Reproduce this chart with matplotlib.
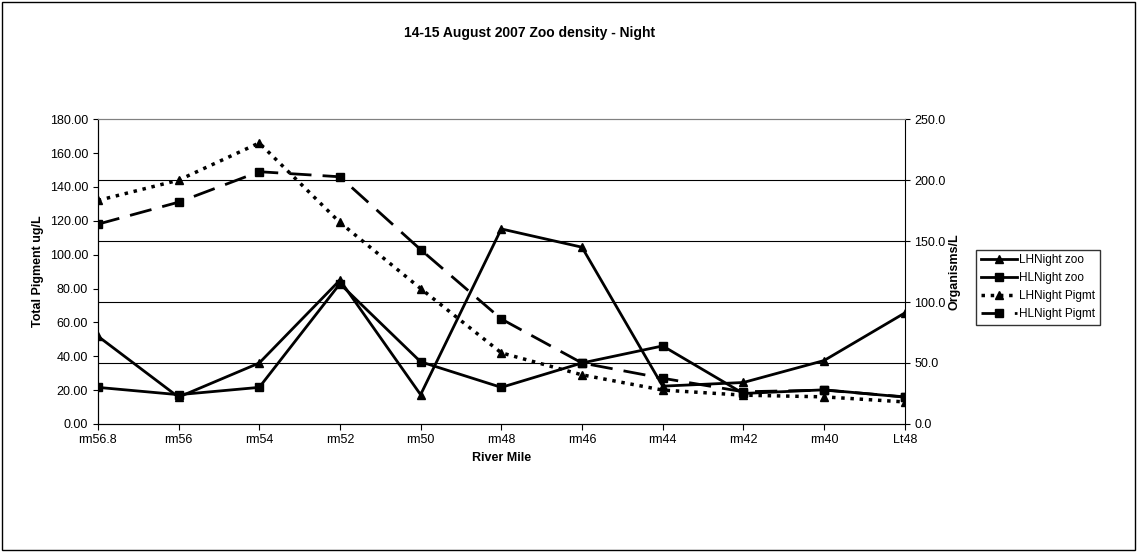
import matplotlib
matplotlib.use("Agg")
import matplotlib.pyplot as plt
from matplotlib.patches import Rectangle

miles = ["rm56.8","rm56","rm54","rm52","rm50","rm48","rm46","rm44","rm42","rm40","Lt48"]
lh_zoo = [72,22,50,118,24,160,145,31,34,52,91]
hl_zoo = [30,24,30,115,51,30,50,64,25,28,22]
lh_pig = [132,144,166,119,80,42,29,20,17,16,13]
hl_pig = [118,131,149,146,103,62,36,27,19,20,16]

plt.rcParams['font.family'] = ['Liberation Sans', 'DejaVu Sans']
fig = plt.figure(figsize=(11.38,5.52), dpi=100)
fig.patches.append(Rectangle((0.002,0.004),0.995,0.992, transform=fig.transFigure, fill=False, ec='black', lw=1))
ax = fig.add_axes([0.086,0.232,0.709,0.552])
ax2 = ax.twinx()
x = list(range(len(miles)))
ax.set_ylim(0,180); ax2.set_ylim(0,250)
ax.set_xlim(0,len(miles)-1)
ax.set_yticks(range(0,181,20)); ax.set_yticklabels([f"{v:.2f}" for v in range(0,181,20)], fontsize=9)
ax2.set_yticks(range(0,251,50)); ax2.set_yticklabels([f"{v:.1f}" for v in range(0,251,50)], fontsize=9)
for v in range(50,201,50):
    ax2.axhline(v, color='black', lw=0.8)
l1, = ax2.plot(x, lh_zoo, '-', color='black', lw=2, marker='^', ms=6, label='LHNight zoo')
l2, = ax2.plot(x, hl_zoo, '-', color='black', lw=2, marker='s', ms=6, label='HLNight zoo')
l3, = ax.plot(x, lh_pig, ':', color='black', lw=2.5, marker='^', ms=6, label='LHNight Pigmt')
l4, = ax.plot(x, hl_pig, color='black', lw=2, dashes=(8,4), marker='s', ms=6, label='HLNight Pigmt')
ax.set_zorder(ax2.get_zorder()+1); ax.patch.set_visible(False)
ax.set_xticks(x); ax.set_xticklabels(miles, fontsize=9)
ax.tick_params(axis='x', length=4, direction='out')
for a in (ax, ax2):
    a.spines['top'].set_color('gray')
ax.spines['right'].set_visible(False)
ax.set_xlabel("River Mile", fontsize=9, fontweight='bold')
ax.set_ylabel("Total Pigment ug/L", fontsize=9, fontweight='bold')
ax2.set_ylabel("Organisms/L", fontsize=9, fontweight='bold', labelpad=2)
fig.text(0.465, 0.94, "14-15 August 2007 Zoo density - Night", ha='center', va='center', fontsize=10, fontweight='bold')
fig.legend(handles=[l1,l2,l3,l4], loc='upper left', bbox_to_anchor=(0.858,0.548), fontsize=8.5,
           frameon=True, fancybox=False, edgecolor='black', handlelength=3, borderaxespad=0, handletextpad=0.2, labelspacing=0.5)
fig.savefig("out.png", dpi=100)
